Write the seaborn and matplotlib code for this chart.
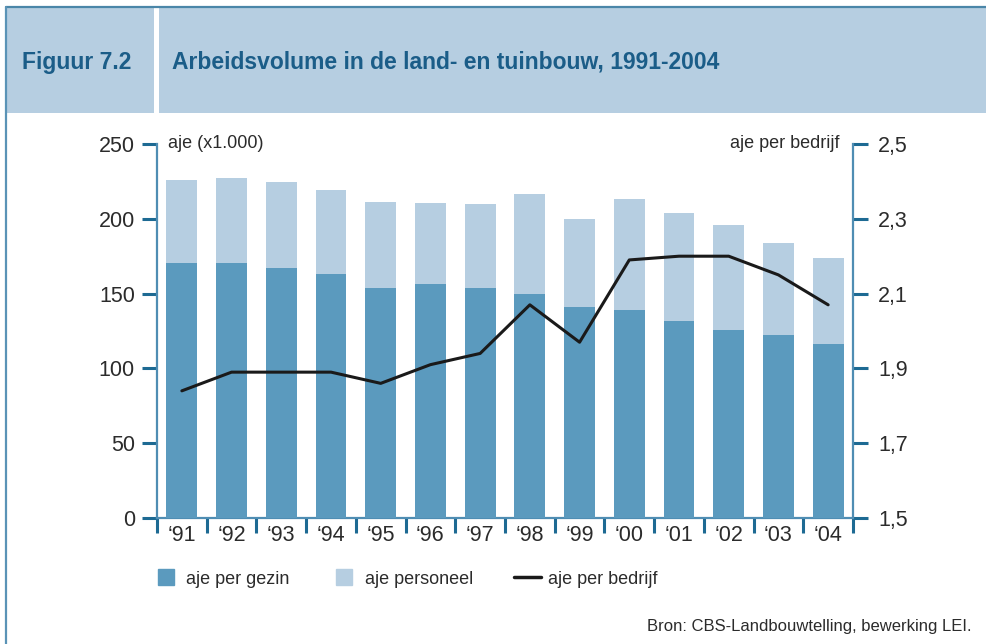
import numpy as np
import pandas as pd
import matplotlib
matplotlib.use("Agg")
import matplotlib.pyplot as plt
from matplotlib.patches import Rectangle
from matplotlib.lines import Line2D
import seaborn as sns

# ---- data ----
years = ["\u201891", "\u201892", "\u201893", "\u201894", "\u201895", "\u201896", "\u201897",
         "\u201898", "\u201899", "\u201800", "\u201801", "\u201802", "\u201803", "\u201804"]
aje_gezin = [170.5, 170.5, 167, 163, 154, 156.5, 154, 150, 141, 139, 132, 126, 122, 116]
aje_personeel = [55.5, 57, 57.5, 56.5, 57, 54, 56, 66.5, 59, 74, 72, 70, 62, 58]
aje_bedrijf = [1.84, 1.89, 1.89, 1.89, 1.86, 1.91, 1.94, 2.07, 1.97, 2.19, 2.20, 2.20, 2.15, 2.07]
left_ticks = [0, 50, 100, 150, 200, 250]
right_ticks = [1.5, 1.7, 1.9, 2.1, 2.3, 2.5]
right_labels = ["1,5", "1,7", "1,9", "2,1", "2,3", "2,5"]

DARK = "#5b9abe"
LIGHT = "#b6cee1"
AXBLUE = "#1d6a93"
SPINE = "#4f8db3"
TXT = "#2b2b2b"
HEAD = "#1b5d88"

sns.set_theme(style="white")
plt.rcParams["font.family"] = ["Liberation Sans Narrow", "Liberation Sans", "DejaVu Sans"]

W, H = 987, 644
fig = plt.figure(figsize=(W / 100, H / 100), dpi=100)
fig.patch.set_facecolor("white")

def fx(px):
    return px / W

def fy(py):
    return 1 - py / H

# header band and frame
fig.add_artist(Rectangle((fx(6), fy(113)), fx(981), (113 - 7) / H, transform=fig.transFigure,
                         facecolor=LIGHT, edgecolor="none", zorder=0))
fig.add_artist(Rectangle((fx(154), fy(113)), fx(5), (113 - 7) / H, transform=fig.transFigure,
                         facecolor="white", edgecolor="none", zorder=1))
fig.add_artist(Line2D([fx(6), fx(987)], [fy(7), fy(7)], transform=fig.transFigure,
                      color="#4a86a8", lw=1.6, zorder=2))
fig.add_artist(Line2D([fx(6), fx(6)], [fy(7), 0], transform=fig.transFigure,
                      color="#5a93b6", lw=1.6, zorder=2))
fig.text(fx(22), fy(62), "Figuur 7.2", color=HEAD, fontsize=16.5, fontweight="bold",
         va="center", ha="left")
fig.text(fx(172), fy(62), "Arbeidsvolume in de land- en tuinbouw, 1991-2004", color=HEAD,
         fontsize=16.5, fontweight="bold", va="center", ha="left")

# main axes
ax = fig.add_axes([fx(157), fy(518), fx(853 - 157), (518 - 144) / H])
ax.set_facecolor("white")

df = pd.DataFrame({"jaar": years, "gezin": aje_gezin,
                   "totaal": np.array(aje_gezin) + np.array(aje_personeel)})
sns.barplot(data=df, x="jaar", y="totaal", color=LIGHT, width=0.62, saturation=1,
            linewidth=0, edgecolor="none", ax=ax, zorder=2)
sns.barplot(data=df, x="jaar", y="gezin", color=DARK, width=0.62, saturation=1,
            linewidth=0, edgecolor="none", ax=ax, zorder=3)

n = len(years)
ax.set_xlim(-0.5, n - 0.5)
ax.set_ylim(0, 250)
ax.set_yticks(left_ticks)
ax.set_yticklabels([str(t) for t in left_ticks])
ax.set_xticks(np.arange(n))
ax.set_xticklabels(years)
ax.set_xticks(np.arange(n + 1) - 0.5, minor=True)
ax.set_xlabel("")
ax.set_ylabel("")
ax.grid(False)

for s in ["top", "right"]:
    ax.spines[s].set_visible(False)
for s in ["left", "bottom"]:
    ax.spines[s].set_color(SPINE)
    ax.spines[s].set_linewidth(1.6)

ax.tick_params(axis="y", which="major", direction="out", length=11, width=2.2,
               color=AXBLUE, labelsize=15.5, labelcolor=TXT, pad=5, left=True)
ax.tick_params(axis="x", which="major", length=0, labelsize=15.5, labelcolor=TXT, pad=5)
ax.tick_params(axis="x", which="minor", direction="out", length=11, width=2.2,
               color=AXBLUE, bottom=True)

# right axis with line
ax2 = ax.twinx()
sns.lineplot(x=np.arange(n), y=aje_bedrijf, ax=ax2, color="#1a1a1a", linewidth=2.2, zorder=5)
ax2.set_ylim(1.5, 2.5)
ax2.set_yticks(right_ticks)
ax2.set_yticklabels(right_labels)
ax2.set_xlim(-0.5, n - 0.5)
ax2.grid(False)
for s in ["top", "left", "bottom"]:
    ax2.spines[s].set_visible(False)
ax2.spines["right"].set_color(SPINE)
ax2.spines["right"].set_linewidth(1.6)
ax2.tick_params(axis="y", which="major", direction="out", length=11, width=2.2,
                color=AXBLUE, labelsize=15.5, labelcolor=TXT, pad=7, right=True)

ax.text(0.0155, 1.0, "aje (x1.000)", transform=ax.transAxes, fontsize=13, color=TXT,
        ha="left", va="center")
ax.text(0.98, 1.0, "aje per bedrijf", transform=ax.transAxes, fontsize=13, color=TXT,
        ha="right", va="center")

# legend
handles = [Line2D([], [], marker="s", markersize=11.2, linestyle="none", color=DARK),
           Line2D([], [], marker="s", markersize=11.2, linestyle="none", color=LIGHT),
           Line2D([], [], color="#1a1a1a", linewidth=2.5)]
labels = ["aje per gezin", "aje personeel", "aje per bedrijf"]
fig.legend(handles, labels, loc="center left", bbox_to_anchor=(fx(153), fy(579)), ncol=3,
           frameon=False, fontsize=13, handlelength=1.45, handletextpad=0.4,
           columnspacing=2.3, borderpad=0, borderaxespad=0, labelcolor=TXT)

fig.text(fx(972), fy(627), "Bron: CBS-Landbouwtelling, bewerking LEI.", fontsize=12,
         color=TXT, ha="right", va="center")

fig.savefig("out.png", dpi=100)
